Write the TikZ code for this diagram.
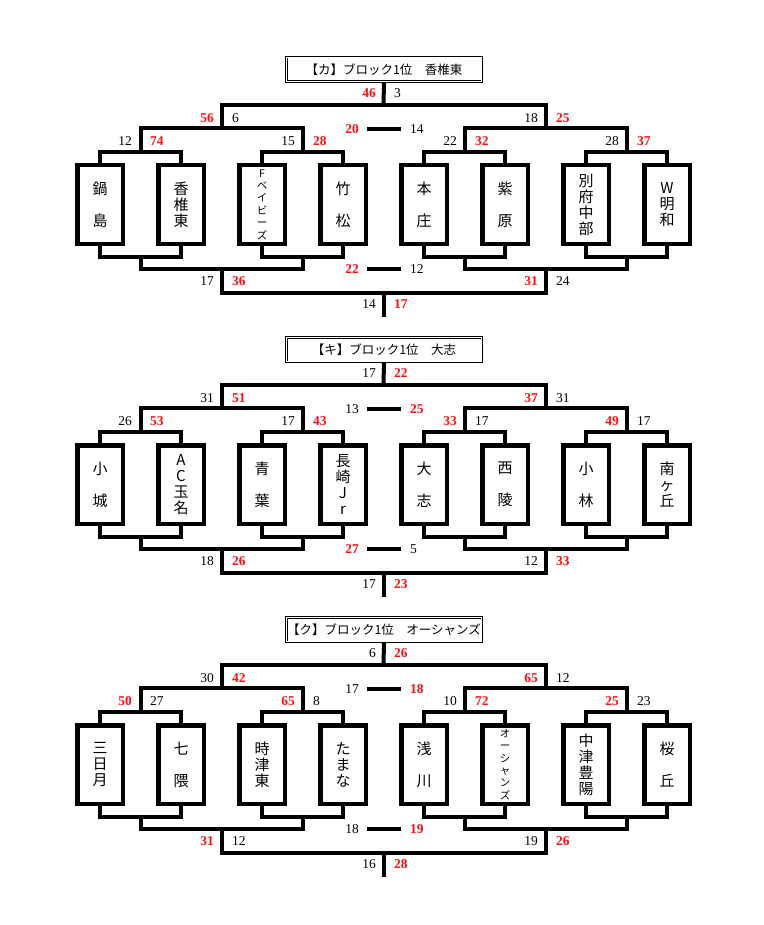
\documentclass[tikz,border=0pt]{standalone}
\usepackage{fontspec}
\setmainfont{Liberation Serif}
\newfontfamily\jp{Noto Sans CJK JP}
\usepackage{xcolor}
\usepackage{tikz}
\usetikzlibrary{positioning}
\definecolor{W1}{HTML}{FF1010}
\newcommand{\win}[1]{\textcolor{W1}{\textbf{#1}}}
\newcommand{\pair}[5]{%
  \node[score, anchor=east] (#1l) at (#2-8, #3) {#4};
  \node[score, anchor=west] (#1r) at (#2+10, #3) {#5};}
\newcommand{\bracket}[1]{%
  \coordinate (#1-a1) at (140.5, 152);
  \coordinate (#1-a2) at (302.5, 152);
  \coordinate (#1-a3) at (464.5, 152);
  \coordinate (#1-a4) at (626.5, 152);
  \coordinate (#1-b1) at (221.5, 128);
  \coordinate (#1-b2) at (545.5, 128);
  \coordinate (#1-c) at (383.5, 105);
  \coordinate (#1-d1) at (140.5, 257);
  \coordinate (#1-d2) at (302.5, 257);
  \coordinate (#1-d3) at (464.5, 257);
  \coordinate (#1-d4) at (626.5, 257);
  \coordinate (#1-e1) at (221.5, 269);
  \coordinate (#1-e2) at (545.5, 269);
  \coordinate (#1-f) at (383.5, 293);
  \coordinate (#1-g) at (383.5, 317);
  \coordinate (#1-m1) at (367, 129);
  \coordinate (#1-m2) at (401, 129);
  \coordinate (#1-m3) at (367, 269);
  \coordinate (#1-m4) at (401, 269);
  % upper half
  \draw[wire] (#1-1.north) |- (#1-a1) -| (#1-2.north);
  \draw[wire] (#1-3.north) |- (#1-a2) -| (#1-4.north);
  \draw[wire] (#1-5.north) |- (#1-a3) -| (#1-6.north);
  \draw[wire] (#1-7.north) |- (#1-a4) -| (#1-8.north);
  \draw[wire] (#1-a1) |- (#1-b1) -| (#1-a2);
  \draw[wire] (#1-a3) |- (#1-b2) -| (#1-a4);
  \draw[wire] (#1-b1) |- (#1-c) -| (#1-b2);
  \draw[wire] (#1-c) -- (#1-t.south);
  % lower half
  \draw[wire] (#1-1.south) |- (#1-d1) -| (#1-2.south);
  \draw[wire] (#1-3.south) |- (#1-d2) -| (#1-4.south);
  \draw[wire] (#1-5.south) |- (#1-d3) -| (#1-6.south);
  \draw[wire] (#1-7.south) |- (#1-d4) -| (#1-8.south);
  \draw[wire] (#1-d1) |- (#1-e1) -| (#1-d2);
  \draw[wire] (#1-d3) |- (#1-e2) -| (#1-d4);
  \draw[wire] (#1-e1) |- (#1-f) -| (#1-e2);
  \draw[wire] (#1-f) -- (#1-g);
  % middle bars
  \draw[wire] (#1-m1) -- (#1-m2);
  \draw[wire] (#1-m3) -- (#1-m4);}

\begin{document}
\begin{tikzpicture}[
	x=1pt, y=-1pt,
	team/.style = {draw, line width=4.5pt, minimum width=45.5pt, minimum height=78.5pt, inner sep=0pt, align=center, font={\jp\fontsize{15pt}{16pt}\selectfont\lineskiplimit=-20pt}},
	long/.style = {font={\jp\fontsize{10.5pt}{12.4pt}\selectfont\lineskiplimit=-20pt}},
	title/.style = {draw, double, line width=0.6pt, double distance=1.3pt, minimum width=195.5pt, minimum height=24.5pt, inner sep=0pt, font={\jp\fontsize{12.5pt}{13pt}\selectfont}},
	score/.style = {inner sep=0pt, font={\fontsize{13.5pt}{13.5pt}\selectfont}},
	wire/.style = {line width=4pt}
]
  \useasboundingbox (0, 0) rectangle (763, 925);

  % Block ka
  \node[title] (ka-t) at (384, 69.5) {【カ】ブロック1位　香椎東};
  \node[team] (ka-1) at (100, 204.5) {鍋\\[16pt]島};
  \node[team] (ka-2) at (181, 204.5) {香\\椎\\東};
  \node[team, long] (ka-3) at (262, 204.5) {F\\ベ\\イ\\ビ\\ー\\ズ};
  \node[team] (ka-4) at (343, 204.5) {竹\\[16pt]松};
  \node[team] (ka-5) at (424, 204.5) {本\\[16pt]庄};
  \node[team] (ka-6) at (505, 204.5) {紫\\[16pt]原};
  \node[team] (ka-7) at (586, 204.5) {別\\府\\中\\部};
  \node[team] (ka-8) at (667, 204.5) {W\\明\\和};
  \bracket{ka}
  \pair{ka-sa}{384}{93}{\win{46}}{3}
  \pair{ka-sb}{222}{118}{\win{56}}{6}
  \pair{ka-sc}{546}{118}{18}{\win{25}}
  \pair{ka-sd}{140}{141}{12}{\win{74}}
  \pair{ka-se}{303}{141}{15}{\win{28}}
  \pair{ka-sf}{465}{141}{22}{\win{32}}
  \pair{ka-sg}{627}{141}{28}{\win{37}}
  \pair{ka-sh}{222}{281}{17}{\win{36}}
  \pair{ka-si}{546}{281}{\win{31}}{24}
  \pair{ka-sj}{384}{304}{14}{\win{17}}
  \node[score, left=8pt of ka-m1] (ka-s1) {\win{20}};
  \node[score, right=9pt of ka-m2] (ka-s2) {14};
  \node[score, left=8pt of ka-m3] (ka-s3) {\win{22}};
  \node[score, right=9pt of ka-m4] (ka-s4) {12};

  % Block ki
  \begin{scope}[yshift=-280pt]
  \node[title] (ki-t) at (384, 69.5) {【キ】ブロック1位　大志};
  \node[team] (ki-1) at (100, 204.5) {小\\[16pt]城};
  \node[team] (ki-2) at (181, 204.5) {A\\C\\玉\\名};
  \node[team] (ki-3) at (262, 204.5) {青\\[16pt]葉};
  \node[team] (ki-4) at (343, 204.5) {長\\崎\\J\\r};
  \node[team] (ki-5) at (424, 204.5) {大\\[16pt]志};
  \node[team] (ki-6) at (505, 204.5) {西\\[16pt]陵};
  \node[team] (ki-7) at (586, 204.5) {小\\[16pt]林};
  \node[team] (ki-8) at (667, 204.5) {南\\ヶ\\丘};
  \bracket{ki}
  \pair{ki-sa}{384}{93}{17}{\win{22}}
  \pair{ki-sb}{222}{118}{31}{\win{51}}
  \pair{ki-sc}{546}{118}{\win{37}}{31}
  \pair{ki-sd}{140}{141}{26}{\win{53}}
  \pair{ki-se}{303}{141}{17}{\win{43}}
  \pair{ki-sf}{465}{141}{\win{33}}{17}
  \pair{ki-sg}{627}{141}{\win{49}}{17}
  \pair{ki-sh}{222}{281}{18}{\win{26}}
  \pair{ki-si}{546}{281}{12}{\win{33}}
  \pair{ki-sj}{384}{304}{17}{\win{23}}
  \node[score, left=8pt of ki-m1] (ki-s1) {13};
  \node[score, right=9pt of ki-m2] (ki-s2) {\win{25}};
  \node[score, left=8pt of ki-m3] (ki-s3) {\win{27}};
  \node[score, right=9pt of ki-m4] (ki-s4) {5};
  \end{scope}

  % Block ku
  \begin{scope}[yshift=-560pt]
  \node[title] (ku-t) at (384, 69.5) {【ク】ブロック1位　オーシャンズ};
  \node[team] (ku-1) at (100, 204.5) {三\\日\\月};
  \node[team] (ku-2) at (181, 204.5) {七\\[16pt]隈};
  \node[team] (ku-3) at (262, 204.5) {時\\津\\東};
  \node[team] (ku-4) at (343, 204.5) {た\\ま\\な};
  \node[team] (ku-5) at (424, 204.5) {浅\\[16pt]川};
  \node[team, long] (ku-6) at (505, 204.5) {オ\\ー\\シ\\ャ\\ン\\ズ};
  \node[team] (ku-7) at (586, 204.5) {中\\津\\豊\\陽};
  \node[team] (ku-8) at (667, 204.5) {桜\\[16pt]丘};
  \bracket{ku}
  \pair{ku-sa}{384}{93}{6}{\win{26}}
  \pair{ku-sb}{222}{118}{30}{\win{42}}
  \pair{ku-sc}{546}{118}{\win{65}}{12}
  \pair{ku-sd}{140}{141}{\win{50}}{27}
  \pair{ku-se}{303}{141}{\win{65}}{8}
  \pair{ku-sf}{465}{141}{10}{\win{72}}
  \pair{ku-sg}{627}{141}{\win{25}}{23}
  \pair{ku-sh}{222}{281}{\win{31}}{12}
  \pair{ku-si}{546}{281}{19}{\win{26}}
  \pair{ku-sj}{384}{304}{16}{\win{28}}
  \node[score, left=8pt of ku-m1] (ku-s1) {17};
  \node[score, right=9pt of ku-m2] (ku-s2) {\win{18}};
  \node[score, left=8pt of ku-m3] (ku-s3) {18};
  \node[score, right=9pt of ku-m4] (ku-s4) {\win{19}};
  \end{scope}
\end{tikzpicture}
\end{document}
